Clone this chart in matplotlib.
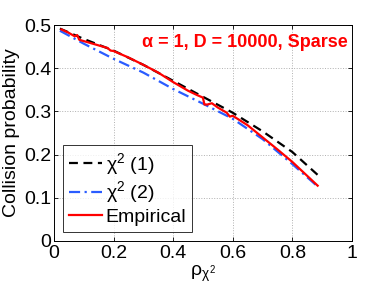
import matplotlib
matplotlib.use("Agg")
import matplotlib.pyplot as plt

# ── Data ─────────────────────────────────────────────────────────────────────
rho_chi1 = [0.02, 0.1, 0.2, 0.3, 0.4, 0.5, 0.6, 0.7, 0.8, 0.885]
p_chi1   = [0.492, 0.468, 0.441, 0.408, 0.371, 0.334, 0.297, 0.254, 0.206, 0.153]

rho_chi2 = [0.02, 0.1, 0.2, 0.3, 0.4, 0.5, 0.6, 0.7, 0.8, 0.885]
p_chi2   = [0.487, 0.457, 0.422, 0.390, 0.352, 0.318, 0.283, 0.236, 0.178, 0.126]

rho_emp = [0.025, 0.05, 0.07, 0.078, 0.085, 0.1, 0.15, 0.18, 0.19, 0.2, 0.25,
           0.3, 0.35, 0.4, 0.45, 0.48, 0.5, 0.505, 0.515, 0.53, 0.55, 0.58,
           0.59, 0.6, 0.65, 0.7, 0.75, 0.8, 0.885]
p_emp   = [0.490, 0.482, 0.474, 0.477, 0.466, 0.463, 0.453, 0.447, 0.441, 0.440,
           0.425, 0.408, 0.390, 0.368, 0.348, 0.338, 0.332, 0.316, 0.316, 0.319,
           0.309, 0.297, 0.288, 0.290, 0.268, 0.240, 0.212, 0.183, 0.128]

x_ticks = [0, 0.2, 0.4, 0.6, 0.8, 1]
y_ticks = [0, 0.1, 0.2, 0.3, 0.4, 0.5]
x_labels = ["0", "0.2", "0.4", "0.6", "0.8", "1"]
y_labels = ["0", "0.1", "0.2", "0.3", "0.4", "0.5"]

plt.rcParams["font.family"] = ["Liberation Sans", "DejaVu Sans"]
plt.rcParams["mathtext.fontset"] = "custom"
plt.rcParams["mathtext.rm"] = "Liberation Sans"
plt.rcParams["mathtext.it"] = "Liberation Sans"
plt.rcParams["mathtext.bf"] = "Liberation Sans:bold"

fig = plt.figure(figsize=(3.88, 2.92), dpi=100)
ax = fig.add_axes([0.139, 0.175, 0.768, 0.739])

ax.plot(rho_chi1, p_chi1, color="black", linestyle=(0, (4, 2.5)), linewidth=1.6,
        label="χ$^2$ (1)")
ax.plot(rho_chi2, p_chi2, color="#2a5cff", linestyle=(0, (5, 2, 1, 2)), linewidth=1.6,
        label="χ$^2$ (2)")
ax.plot(rho_emp, p_emp, color="red", linewidth=1.6, label="Empirical")

ax.set_xlim(0, 1)
ax.set_ylim(0, 0.5)
ax.set_xticks(x_ticks)
ax.set_yticks(y_ticks)
ax.set_xticklabels(x_labels)
ax.set_yticklabels(y_labels)
ax.tick_params(direction="in", length=3, labelsize=14, top=True, right=True,
               width=0.6)
ax.tick_params(axis="x", pad=3)
ax.tick_params(axis="y", pad=2)
ax.grid(True, linestyle=":", color="#b0b0b0", linewidth=0.7)
for s in ax.spines.values():
    s.set_linewidth(0.7)

ax.set_xlabel("ρ$_{χ^2}$", fontsize=14, labelpad=1)
ax.set_ylabel("Collision probability", fontsize=14, labelpad=3)

ax.text(0.985, 0.96, "α = 1, D = 10000, Sparse",
        transform=ax.transAxes, ha="right", va="top", color="red",
        fontsize=13, fontweight="bold")

leg = ax.legend(loc="lower left", bbox_to_anchor=(0.03, 0.042), fontsize=14,
                frameon=True, fancybox=False, edgecolor="black", borderaxespad=0,
                handlelength=1.7, handletextpad=0.2, labelspacing=0.15,
                borderpad=0.3)
leg.get_frame().set_linewidth(0.7)

fig.savefig("out.png", dpi=100)
